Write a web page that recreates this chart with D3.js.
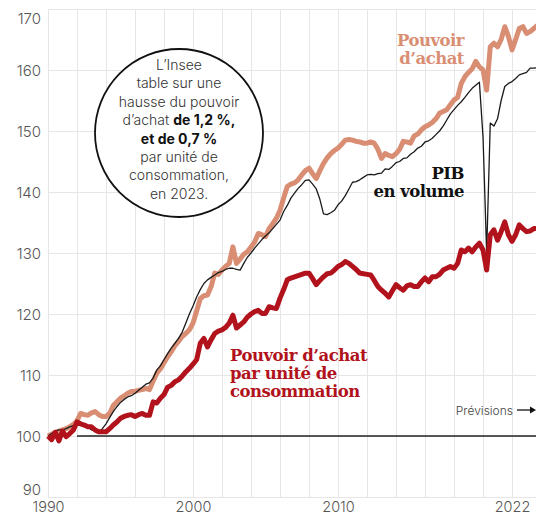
<!DOCTYPE html>
<html>
<head>
<meta charset="utf-8">
<script src="https://cdn.jsdelivr.net/npm/d3@7"></script>
<style>
  html, body { margin: 0; padding: 0; background: #fff; }
  svg { display: block; }
</style>
</head>
<body>
<svg id="chart" width="536" height="516"></svg>
<script>
// Indices base 100 en 1990, données trimestrielles (T1 à T4 par année)
const years = [1990, 1991, 1992, 1993, 1994, 1995, 1996, 1997, 1998, 1999,
               2000, 2001, 2002, 2003, 2004, 2005, 2006, 2007, 2008, 2009,
               2010, 2011, 2012, 2013, 2014, 2015, 2016, 2017, 2018, 2019,
               2020, 2021, 2022, 2023];

const pouvoirAchat = [
  [100.0, 100.3, 100.6, 100.8], [101.0, 101.2, 101.5, 101.9],
  [102.5, 103.7, 103.5, 103.4], [103.8, 104.0, 103.5, 103.2],
  [103.2, 103.7, 105.0, 105.6], [106.2, 106.6, 107.0, 107.3],
  [107.3, 107.5, 107.6, 107.8], [107.6, 109.0, 110.3, 111.0],
  [112.0, 113.0, 113.8, 114.8], [115.5, 116.3, 116.8, 117.4],
  [118.5, 120.5, 122.5, 123.0], [123.1, 124.5, 126.7, 126.5],
  [127.2, 127.8, 128.3, 131.0], [128.3, 129.0, 129.8, 130.2],
  [131.0, 131.8, 133.2, 133.0], [132.7, 134.0, 134.8, 135.7],
  [137.0, 139.0, 140.9, 141.3], [141.5, 142.0, 142.8, 143.5],
  [143.9, 143.0, 142.2, 143.5], [144.7, 145.6, 146.3, 146.8],
  [147.2, 147.8, 148.5, 148.6], [148.5, 148.3, 148.2, 148.0],
  [148.0, 148.2, 148.0, 147.0], [145.5, 146.3, 146.0, 145.8],
  [146.3, 147.0, 148.3, 148.2], [148.0, 149.2, 149.5, 150.2],
  [150.7, 151.0, 151.4, 152.0], [152.9, 153.2, 153.5, 154.3],
  [155.1, 155.5, 157.8, 158.9], [159.6, 160.2, 161.4, 160.5],
  [160.0, 156.7, 163.8, 164.4], [163.8, 165.0, 167.1, 165.5],
  [163.3, 165.0, 166.8, 167.1], [166.0, 166.3, 166.8, 167.3]
];

const pibVolume = [
  [100.0, 100.4, 100.8, 101.0], [101.0, 101.2, 101.5, 101.7],
  [101.9, 102.0, 101.8, 101.5], [101.0, 100.8, 100.7, 101.2],
  [102.0, 103.0, 104.0, 104.8], [105.5, 106.0, 106.4, 106.6],
  [107.0, 107.5, 108.0, 108.5], [108.7, 109.5, 110.8, 111.5],
  [112.5, 113.5, 114.4, 115.2], [116.0, 117.0, 118.5, 120.0],
  [121.3, 122.8, 124.0, 125.0], [125.6, 126.0, 126.4, 126.8],
  [127.0, 127.3, 127.5, 127.5], [127.3, 127.2, 128.3, 129.3],
  [130.0, 130.8, 131.5, 132.2], [132.8, 133.3, 134.0, 134.7],
  [135.4, 136.8, 137.8, 139.0], [139.8, 140.6, 141.2, 141.9],
  [142.0, 141.3, 140.5, 138.8], [136.4, 136.3, 136.6, 137.0],
  [137.9, 138.5, 139.4, 140.5], [141.6, 141.7, 142.0, 142.4],
  [142.8, 142.9, 142.8, 143.0], [143.1, 143.8, 143.7, 144.2],
  [144.8, 145.0, 145.5, 145.6], [146.2, 146.6, 147.2, 147.5],
  [148.2, 148.4, 148.8, 149.4], [150.0, 150.8, 151.8, 152.8],
  [153.5, 154.2, 154.8, 155.5], [156.3, 157.0, 157.5, 158.0],
  [149.0, 130.0, 151.3, 150.8], [152.0, 155.0, 157.3, 157.8],
  [158.1, 158.6, 159.2, 159.4], [159.6, 160.3, 160.3, 160.4]
];

const pouvoirAchatUC = [
  [100.0, 99.4, 100.6, 99.2], [100.8, 99.9, 100.4, 101.0],
  [102.3, 102.0, 101.8, 101.5], [101.5, 101.0, 100.7, 100.7],
  [100.7, 101.2, 101.8, 102.3], [102.9, 103.2, 103.4, 103.5],
  [103.2, 103.5, 103.7, 103.4], [103.4, 105.6, 105.4, 106.2],
  [106.8, 108.0, 108.3, 108.9], [109.2, 109.8, 110.5, 111.1],
  [111.8, 112.5, 115.2, 116.0], [114.6, 115.8, 116.8, 117.2],
  [117.4, 117.8, 118.5, 119.8], [117.7, 118.2, 118.7, 119.5],
  [120.0, 120.4, 120.6, 120.1], [120.1, 121.2, 121.0, 120.9],
  [122.6, 124.0, 125.6, 125.9], [126.1, 126.3, 126.5, 126.7],
  [126.7, 125.8, 124.8, 125.5], [126.1, 126.6, 126.7, 127.2],
  [127.8, 128.1, 128.6, 128.3], [127.8, 127.3, 126.7, 126.6],
  [126.5, 126.4, 125.5, 124.5], [123.9, 123.4, 122.8, 123.8],
  [124.8, 124.3, 123.9, 124.6], [124.8, 124.5, 124.5, 125.3],
  [125.9, 125.3, 126.1, 126.1], [126.5, 127.2, 127.5, 127.8],
  [127.5, 128.3, 130.5, 130.2], [130.8, 130.2, 131.0, 131.6],
  [130.5, 127.2, 133.0, 133.8], [132.1, 133.5, 135.1, 133.0],
  [131.9, 133.0, 134.6, 134.0], [133.5, 133.6, 134.0, 134.0]
];

const yTicks = [90, 100, 110, 120, 130, 140, 150, 160, 170];
const xGridYears = [1990, 1992, 1994, 1996, 1998, 2000, 2002, 2004, 2006, 2008,
                    2010, 2012, 2014, 2016, 2018, 2020, 2022];
const xTickLabels = [1990, 2000, 2010, 2022];

const W = 536, H = 516;
const plotLeft = 48, plotTop = 9, plotBottom = 497;

const x = d3.scaleLinear().domain([1990, 2023.75]).range([plotLeft, 537.4]);
const y = d3.scaleLinear().domain([90, 170]).range([plotBottom, plotTop]);

const svg = d3.select("#chart");

// Points trimestriels : T1 au début de l'année, puis +1/4 par trimestre
const toPoints = series => years.flatMap((yr, i) =>
  series[i].map((v, q) => ({ t: yr + q / 4, v })));

// Quadrillage horizontal
const yGrid = svg.append("g")
  .attr("transform", `translate(${plotLeft},0)`)
  .call(d3.axisLeft(y).tickValues(yTicks).tickSize(-(W - plotLeft)).tickFormat(""));
yGrid.select(".domain").remove();
yGrid.selectAll(".tick line").attr("stroke", "#e6e6e6").attr("stroke-width", 1);

// Quadrillage vertical, tous les deux ans
const xGrid = svg.append("g")
  .attr("transform", `translate(0,${plotBottom})`)
  .call(d3.axisBottom(x).tickValues(xGridYears).tickSize(-(plotBottom - plotTop)).tickFormat(""));
xGrid.select(".domain").remove();
xGrid.selectAll(".tick line").attr("stroke", "#e6e6e6").attr("stroke-width", 1);

// Étiquettes de l'axe vertical
const yLabels = svg.append("g")
  .attr("transform", `translate(${plotLeft - 7},0)`)
  .call(d3.axisLeft(y).tickValues(yTicks).tickSize(0).tickPadding(0));
yLabels.select(".domain").remove();
yLabels.selectAll(".tick text")
  .attr("font-family", "Inter, 'Noto Sans', sans-serif")
  .attr("font-size", 15)
  .attr("font-weight", 300)
  .attr("fill", "#555")
  .attr("dy", d => d === 170 ? "0.95em" : (d === 90 ? "-0.15em" : "0.35em"));

// Étiquettes de l'axe horizontal
const xLabels = svg.append("g")
  .attr("transform", `translate(0,${plotBottom})`)
  .call(d3.axisBottom(x).tickValues(xTickLabels).tickSize(0).tickPadding(0).tickFormat(d3.format("d")));
xLabels.select(".domain").remove();
xLabels.selectAll(".tick text")
  .attr("font-family", "Inter, 'Noto Sans', sans-serif")
  .attr("font-size", 14.5)
  .attr("font-weight", 300)
  .attr("fill", "#555")
  .attr("dy", "1.06em");

// Ligne de référence à 100
svg.append("line")
  .attr("x1", x(1992)).attr("x2", W)
  .attr("y1", y(100)).attr("y2", y(100))
  .attr("stroke", "#222").attr("stroke-width", 1.5);

const line = d3.line().x(d => x(d.t)).y(d => y(d.v)).curve(d3.curveLinear);

svg.append("path")
  .datum(toPoints(pouvoirAchat))
  .attr("d", line)
  .attr("fill", "none")
  .attr("stroke", "#d98e74")
  .attr("stroke-width", 5)
  .attr("stroke-linejoin", "round");

svg.append("path")
  .datum(toPoints(pibVolume))
  .attr("d", line)
  .attr("fill", "none")
  .attr("stroke", "#1a1a1a")
  .attr("stroke-width", 1.3)
  .attr("stroke-linejoin", "round");

svg.append("path")
  .datum(toPoints(pouvoirAchatUC))
  .attr("d", line)
  .attr("fill", "none")
  .attr("stroke", "#b1121b")
  .attr("stroke-width", 5)
  .attr("stroke-linejoin", "round");

// Étiquettes des séries
const serif = "'DejaVu Serif', 'Liberation Serif', serif";
function label(lines, px, py, anchor, color) {
  const t = svg.append("text")
    .attr("font-family", serif)
    .attr("font-weight", 700)
    .attr("font-size", 16.5)
    .attr("letter-spacing", -0.5)
    .attr("fill", color)
    .attr("text-anchor", anchor);
  lines.forEach((s, i) => t.append("tspan").attr("x", px).attr("y", py + i * 18).text(s));
}
label(["Pouvoir", "d\u2019achat"], 464, 46, "end", "#d98e74");
label(["PIB", "en volume"], 464, 179, "end", "#111");
label(["Pouvoir d\u2019achat", "par unité de", "consommation"], 230, 361, "start", "#b1121b");

// Mention des prévisions
svg.append("text")
  .attr("x", 513).attr("y", 414.5)
  .attr("text-anchor", "end")
  .attr("font-family", "Inter, 'Noto Sans', sans-serif")
  .attr("font-size", 12)
  .attr("font-weight", 300)
  .attr("fill", "#444")
  .text("Prévisions");
svg.append("line")
  .attr("x1", 517).attr("x2", 531).attr("y1", 410).attr("y2", 410)
  .attr("stroke", "#111").attr("stroke-width", 1.3);
svg.append("path")
  .attr("d", "M530,406.5 L536,410 L530,413.5 Z")
  .attr("fill", "#111");

// Encadré rond
const cx = 179, cy = 133, r = 84;
svg.append("circle")
  .attr("cx", cx).attr("cy", cy).attr("r", r)
  .attr("fill", "#fff").attr("stroke", "#111").attr("stroke-width", 1.8);

const note = [
  [["L\u2019Insee", false]],
  [["table sur une", false]],
  [["hausse du pouvoir", false]],
  [["d\u2019achat ", false], ["de 1,2 %,", true]],
  [["et de 0,7 %", true]],
  [["par unité de", false]],
  [["consommation,", false]],
  [["en 2023.", false]]
];
const noteText = svg.append("text")
  .attr("text-anchor", "middle")
  .attr("font-family", "Inter, 'Noto Sans', sans-serif")
  .attr("font-size", 14)
  .attr("fill", "#333");
note.forEach((parts, i) => {
  parts.forEach((p, j) => {
    const ts = noteText.append("tspan").text(p[0])
      .attr("font-weight", p[1] ? 700 : 300)
      .attr("fill", p[1] ? "#111" : "#333");
    if (j === 0) ts.attr("x", cx).attr("y", 70 + i * 18.4);
  });
});
</script>
</body>
</html>
